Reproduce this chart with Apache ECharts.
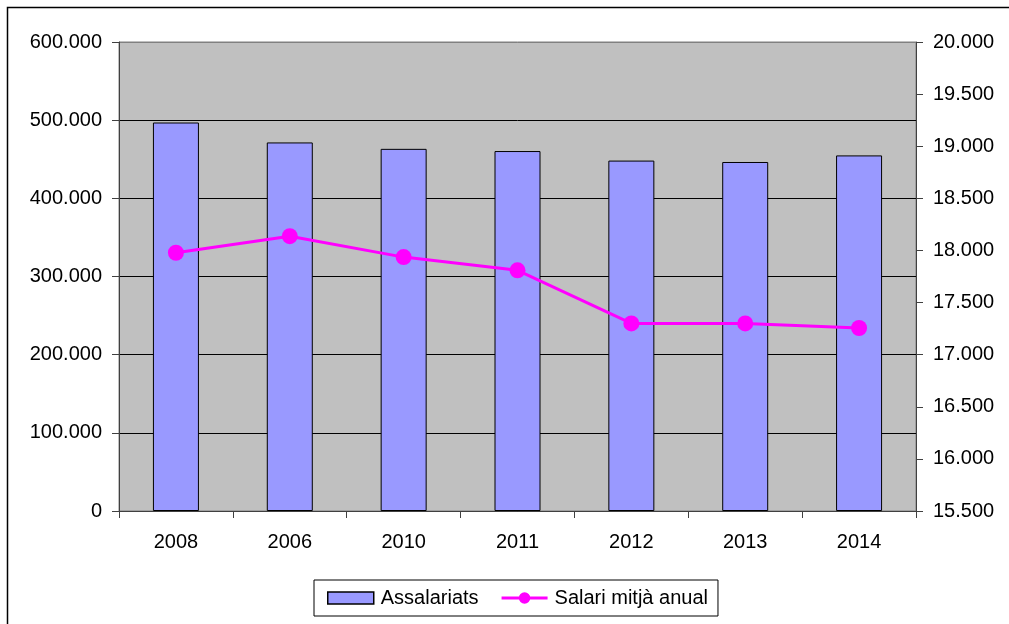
<!DOCTYPE html>
<html>
<head>
<meta charset="utf-8">
<script src="https://cdn.jsdelivr.net/npm/echarts@6/dist/echarts.min.js"></script>
<style>html,body{margin:0;padding:0;background:#fff;}#c{width:1009px;height:624px;}</style>
</head>
<body>
<div id="c"></div>
<script>
const categories = ['2008', '2006', '2010', '2011', '2012', '2013', '2014'];
const assalariats = [497000, 471500, 463300, 460500, 448300, 446500, 454900];
const salariMitja = [17978, 18137, 17936, 17809, 17300, 17300, 17256];
const seriesNames = ['Assalariats', 'Salari mitjà anual'];

function fmt(v) {
  const s = String(Math.round(v));
  return s.replace(/\B(?=(\d{3})+(?!\d))/g, '.');
}
const FONT = 'Liberation Sans, Arial, sans-serif';
const LINE_ICON = 'path://M0,4 L48,4 L48,7 L0,7 Z M18,5.5 A6,6 0 1,1 30,5.5 A6,6 0 1,1 18,5.5 Z';
const chart = echarts.init(document.getElementById('c'), null, { renderer: 'canvas' });
chart.setOption({
  animation: false,
  backgroundColor: '#fff',
  textStyle: { fontFamily: FONT, color: '#000' },
  graphic: [{
    type: 'rect', silent: true, z: -10,
    shape: { x: 7.5, y: 7.5, width: 1010, height: 630 },
    style: { fill: 'none', stroke: '#000', lineWidth: 1.5 }
  }],
  grid: {
    left: 119, right: 93, top: 42, bottom: 113,
    show: true, backgroundColor: '#C0C0C0', borderColor: '#808080', borderWidth: 1
  },
  legend: {
    left: 314, top: 580,
    padding: [8, 10, 8, 13],
    backgroundColor: '#fff', borderColor: '#000', borderWidth: 1,
    itemWidth: 46, itemHeight: 12, itemGap: 23,
    textStyle: { fontFamily: FONT, fontSize: 20, color: '#000', padding: [0, 0, 0, 2] },
    data: [
      { name: seriesNames[0], icon: 'rect', itemStyle: { color: '#9999FF', borderColor: '#000', borderWidth: 1.5 } },
      { name: seriesNames[1], icon: LINE_ICON, itemStyle: { color: '#FF00FF', borderWidth: 0 } }
    ]
  },
  xAxis: {
    type: 'category', data: categories,
    axisLine: { lineStyle: { color: '#404040', width: 1 } },
    axisTick: { show: true, length: 7, lineStyle: { color: '#404040' } },
    axisLabel: { fontFamily: FONT, fontSize: 20, color: '#000', margin: 21 },
    splitLine: { show: false }
  },
  yAxis: [{
    type: 'value', min: 0, max: 600000, interval: 100000,
    axisLine: { show: true, lineStyle: { color: '#404040', width: 1 } },
    axisTick: { show: true, length: 7, lineStyle: { color: '#404040' } },
    axisLabel: { fontFamily: FONT, fontSize: 20, color: '#000', margin: 17, formatter: fmt },
    splitLine: { show: true, lineStyle: { color: ['#000', '#000', '#000', '#000', '#000', '#000', '#808080'], width: 1 } }
  }, {
    type: 'value', min: 15500, max: 20000, interval: 500, position: 'right',
    axisLine: { show: true, lineStyle: { color: '#404040', width: 1 } },
    axisTick: { show: true, length: 7, lineStyle: { color: '#404040' } },
    axisLabel: { fontFamily: FONT, fontSize: 20, color: '#000', margin: 17, formatter: fmt },
    splitLine: { show: false }
  }],
  series: [{
    name: seriesNames[0], type: 'bar', data: assalariats, yAxisIndex: 0,
    barWidth: 46,
    itemStyle: { color: '#9999FF', borderColor: '#000', borderWidth: 1 }
  }, {
    name: seriesNames[1], type: 'line', data: salariMitja, yAxisIndex: 1,
    symbol: 'circle', symbolSize: 16,
    lineStyle: { color: '#FF00FF', width: 3 },
    itemStyle: { color: '#FF00FF' }
  }]
});
</script>
</body>
</html>
